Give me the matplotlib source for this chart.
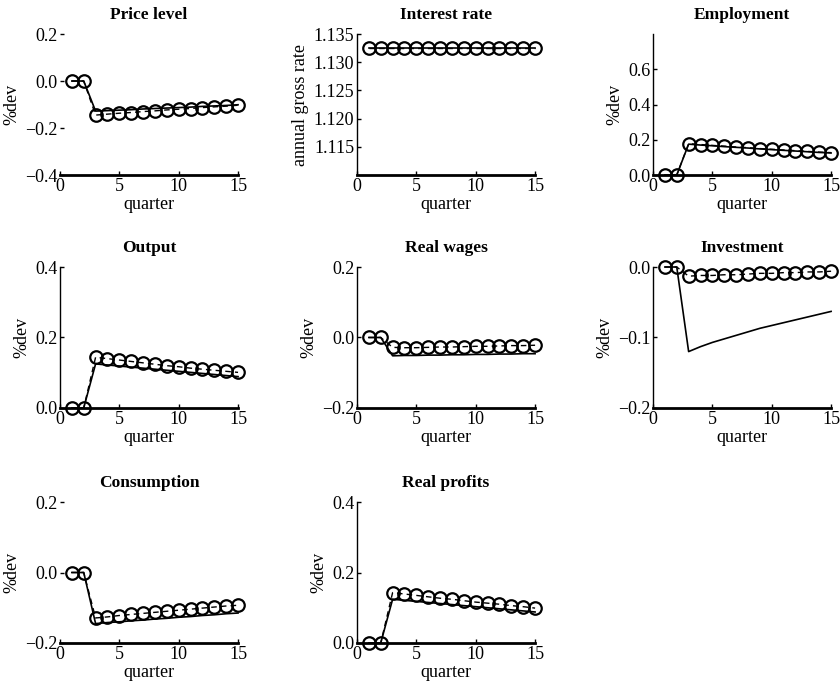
import matplotlib
matplotlib.use("Agg")
import matplotlib.pyplot as plt
from matplotlib.ticker import FuncFormatter

plt.rcParams["font.family"] = ["Liberation Serif", "DejaVu Serif"]
plt.rcParams["font.size"] = 13

quarters = list(range(1, 16))

# dashed series with circles / solid series
price_circ = [0, 0, -0.145, -0.141, -0.137, -0.134, -0.130, -0.127, -0.123, -0.120, -0.117, -0.113, -0.110, -0.107, -0.103]
price_line = [0, 0, -0.128, -0.126, -0.124, -0.122, -0.119, -0.117, -0.115, -0.113, -0.111, -0.108, -0.106, -0.104, -0.101]

rate_circ = [1.1326] * 15
rate_line = [1.1326] * 15

empl_circ = [0, 0, 0.178, 0.173, 0.168, 0.164, 0.159, 0.155, 0.150, 0.146, 0.142, 0.138, 0.134, 0.130, 0.127]
empl_line = [0, 0, 0.175, 0.170, 0.166, 0.161, 0.157, 0.153, 0.148, 0.144, 0.140, 0.136, 0.132, 0.128, 0.125]

output_circ = [0, 0, 0.144, 0.140, 0.136, 0.132, 0.128, 0.124, 0.120, 0.117, 0.113, 0.110, 0.107, 0.104, 0.101]
output_line = [0, 0, 0.125, 0.122, 0.119, 0.116, 0.113, 0.110, 0.107, 0.104, 0.101, 0.098, 0.095, 0.092, 0.089]

wage_circ = [0, 0, -0.028, -0.029, -0.029, -0.028, -0.027, -0.027, -0.026, -0.025, -0.025, -0.024, -0.023, -0.023, -0.022]
wage_line = [0, 0, -0.052, -0.051, -0.051, -0.050, -0.050, -0.049, -0.049, -0.048, -0.048, -0.047, -0.047, -0.046, -0.046]

inv_circ = [0, 0, -0.013, -0.012, -0.012, -0.011, -0.011, -0.010, -0.009, -0.009, -0.008, -0.008, -0.007, -0.007, -0.006]
inv_line = [0, 0, -0.120, -0.113, -0.107, -0.102, -0.097, -0.092, -0.087, -0.083, -0.079, -0.075, -0.071, -0.067, -0.063]

cons_circ = [0, 0, -0.129, -0.126, -0.122, -0.119, -0.116, -0.113, -0.110, -0.107, -0.104, -0.101, -0.098, -0.095, -0.093]
cons_line = [0, 0, -0.145, -0.142, -0.140, -0.137, -0.135, -0.132, -0.130, -0.127, -0.125, -0.122, -0.120, -0.117, -0.115]

profit_circ = [0, 0, 0.143, 0.139, 0.135, 0.131, 0.127, 0.124, 0.120, 0.116, 0.113, 0.110, 0.106, 0.103, 0.099]
profit_line = [0, 0, 0.124, 0.121, 0.118, 0.115, 0.112, 0.109, 0.106, 0.103, 0.100, 0.097, 0.094, 0.091, 0.088]

# title, circles, line, ylim, yticks, ylabel, decimals, left spine shown
panels = [
    ("Price level", price_circ, price_line, (-0.4, 0.2), [-0.4, -0.2, 0.0, 0.2], "%dev", 1, False),
    ("Interest rate", rate_circ, rate_line, (1.110, 1.135), [1.115, 1.120, 1.125, 1.130, 1.135], "annual gross rate", 3, True),
    ("Employment", empl_circ, empl_line, (0.0, 0.8), [0.0, 0.2, 0.4, 0.6], "%dev", 1, True),
    ("Output", output_circ, output_line, (0.0, 0.4), [0.0, 0.2, 0.4], "%dev", 1, True),
    ("Real wages", wage_circ, wage_line, (-0.2, 0.2), [-0.2, 0.0, 0.2], "%dev", 1, True),
    ("Investment", inv_circ, inv_line, (-0.2, 0.0), [-0.2, -0.1, 0.0], "%dev", 1, True),
    ("Consumption", cons_circ, cons_line, (-0.2, 0.2), [-0.2, 0.0, 0.2], "%dev", 1, False),
    ("Real profits", profit_circ, profit_line, (0.0, 0.4), [0.0, 0.2, 0.4], "%dev", 1, True),
]


def make_fmt(nd):
    def f(v, pos):
        s = "%.*f" % (nd, abs(v))
        if round(v, nd) < 0:
            s = "\u2212" + s
        return s
    return FuncFormatter(f)


fig = plt.figure(figsize=(8.4, 6.82), dpi=100)
lefts = [0.0714, 0.425, 0.7774]
bottoms = [0.7434, 0.4018, 0.0572]
w, h = 0.212, 0.2067

for i, (title, circ, line, ylim, yticks, ylab, nd, leftspine) in enumerate(panels):
    r, c = divmod(i, 3)
    ax = fig.add_axes([lefts[c], bottoms[r], w, h])
    ax.plot(quarters, line, color="black", lw=1.2, clip_on=False, zorder=2)
    ax.plot(quarters, circ, color="black", lw=1.0, ls=(0, (4, 3)), marker="o",
            ms=9, mfc="none", mec="black", mew=1.6, clip_on=False, zorder=3)
    ax.set_xlim(0, 15)
    ax.set_ylim(*ylim)
    ax.set_xticks([0, 5, 10, 15])
    ax.set_yticks(yticks)
    ax.yaxis.set_major_formatter(make_fmt(nd))
    ax.set_title(title, fontweight="bold", fontsize=12.5, pad=11)
    ax.set_xlabel("quarter", labelpad=1)
    ax.set_ylabel(ylab, labelpad=3)
    ax.spines["top"].set_visible(False)
    ax.spines["right"].set_visible(False)
    ax.spines["bottom"].set_linewidth(2)
    ax.spines["left"].set_linewidth(1)
    ax.spines["left"].set_visible(leftspine)
    ax.tick_params(direction="in", length=3, width=1, pad=2)

fig.savefig("out.png", dpi=100)
